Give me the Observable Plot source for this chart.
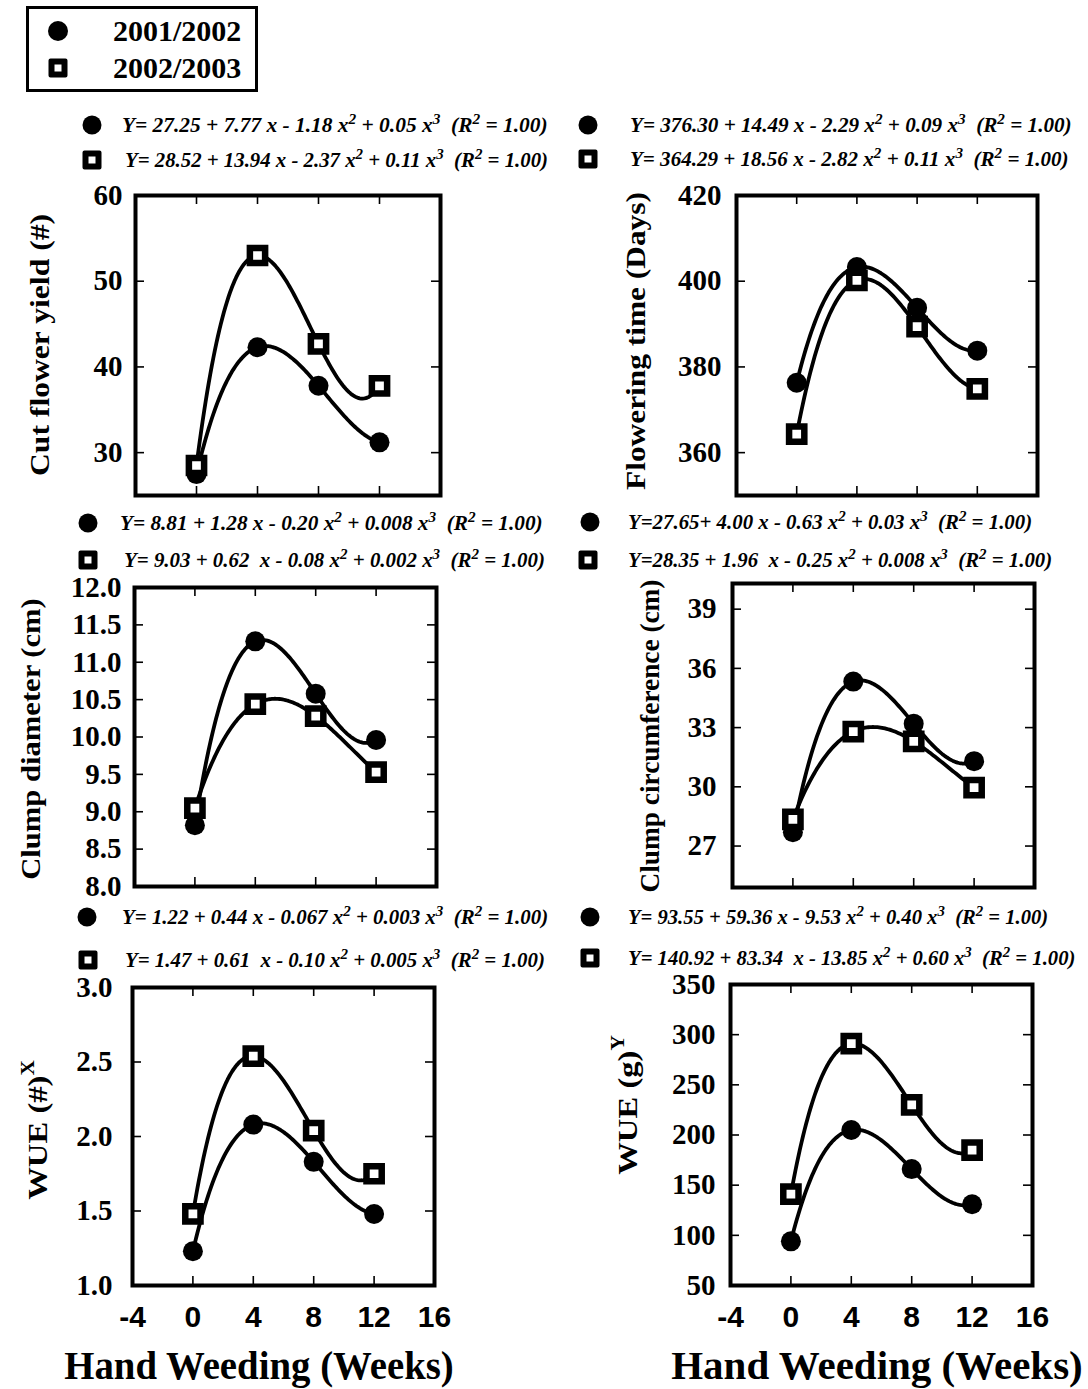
<!DOCTYPE html>
<html>
<head>
<meta charset="utf-8">
<script src="https://cdn.jsdelivr.net/npm/d3@7"></script>
<script src="https://cdn.jsdelivr.net/npm/@observablehq/plot@0.6"></script>
<style>
  body { margin: 0; background: #fff; }
  #page { position: relative; width: 1088px; height: 1389px; overflow: hidden; background: #fff;
          font-family: "Liberation Serif", "Times New Roman", serif; color: #000; }
  .plotbox { position: absolute; }
  .eq { position: absolute; font-style: italic; font-weight: bold; font-size: 21px; white-space: pre;
        line-height: 1; transform-origin: 0 50%; }
  .eq sup { font-size: 0.72em; vertical-align: 0.55em; line-height: 0; }
  .dotm { position: absolute; width: 19px; height: 19px; border-radius: 50%; background: #000;
          transform: translate(-50%, -50%); }
  .sqm { position: absolute; width: 7px; height: 7px; border: 6.5px solid #000; background: #fff;
         transform: translate(-50%, -50%); border-radius: 2px; }
  .ylab { position: absolute; font-weight: bold; font-size: 28px; white-space: nowrap; line-height: 1; }
  .ylab sup { font-size: 0.65em; vertical-align: 0.7em; line-height: 0; }
  .xlab { position: absolute; font-weight: bold; font-size: 40px; white-space: nowrap; line-height: 1; }
  #legend { position: absolute; left: 26px; top: 6px; width: 226px; height: 80px; border: 3px solid #000; }
  .legtxt { position: absolute; font-weight: bold; font-size: 30px; line-height: 1; white-space: nowrap;
            transform: translateY(-50%); }
</style>
</head>
<body>
<div id="page"></div>
<script>
// ---------------- data ----------------
const weeks = [0, 4, 8, 12];
const seasons = ["2001/2002", "2002/2003"];
const xTickLabels = [-4, 0, 4, 8, 12, 16];
const innerXTicks = [0, 4, 8, 12];

const yield2001 = [27.5, 42.3, 37.8, 31.2];
const yield2002 = [28.5, 53.0, 42.7, 37.8];
const yieldTicks = [30, 40, 50, 60];

const flowering2001 = [376.3, 403.3, 393.8, 383.8];
const flowering2002 = [364.3, 400.2, 389.4, 374.9];
const floweringTicks = [360, 380, 400, 420];

const diameter2001 = [8.82, 11.28, 10.58, 9.96];
const diameter2002 = [9.05, 10.44, 10.28, 9.53];
const diameterTicks = [8.0, 8.5, 9.0, 9.5, 10.0, 10.5, 11.0, 11.5, 12.0];

const circumference2001 = [27.7, 35.33, 33.2, 31.3];
const circumference2002 = [28.35, 32.8, 32.3, 29.96];
const circumferenceTicks = [27, 30, 33, 36, 39];

const wueNum2001 = [1.23, 2.08, 1.83, 1.48];
const wueNum2002 = [1.48, 2.54, 2.04, 1.75];
const wueNumTicks = [1.0, 1.5, 2.0, 2.5, 3.0];

const wueG2001 = [94, 205, 166, 131];
const wueG2002 = [141, 291, 230, 185];
const wueGTicks = [50, 100, 150, 200, 250, 300, 350];

const equations = {
  yield: ["Y= 27.25 + 7.77 x - 1.18 x^2 + 0.05 x^3  (R^2 = 1.00)",
          "Y= 28.52 + 13.94 x - 2.37 x^2 + 0.11 x^3  (R^2 = 1.00)"],
  flowering: ["Y= 376.30 + 14.49 x - 2.29 x^2 + 0.09 x^3  (R^2 = 1.00)",
              "Y= 364.29 + 18.56 x - 2.82 x^2 + 0.11 x^3  (R^2 = 1.00)"],
  diameter: ["Y= 8.81 + 1.28 x - 0.20 x^2 + 0.008 x^3  (R^2 = 1.00)",
             "Y= 9.03 + 0.62  x - 0.08 x^2 + 0.002 x^3  (R^2 = 1.00)"],
  circumference: ["Y=27.65+ 4.00 x - 0.63 x^2 + 0.03 x^3  (R^2 = 1.00)",
                  "Y=28.35 + 1.96  x - 0.25 x^2 + 0.008 x^3  (R^2 = 1.00)"],
  wueNum: ["Y= 1.22 + 0.44 x - 0.067 x^2 + 0.003 x^3  (R^2 = 1.00)",
           "Y= 1.47 + 0.61  x - 0.10 x^2 + 0.005 x^3  (R^2 = 1.00)"],
  wueG: ["Y= 93.55 + 59.36 x - 9.53 x^2 + 0.40 x^3  (R^2 = 1.00)",
         "Y= 140.92 + 83.34  x - 13.85 x^2 + 0.60 x^3  (R^2 = 1.00)"]
};

const yLabels = {
  yield: "Cut flower yield (#)",
  flowering: "Flowering time (Days)",
  diameter: "Clump diameter (cm)",
  circumference: "Clump circumference (cm)",
  wueNum: "WUE (#)<sup>X</sup>",
  wueG: "WUE (g)<sup>Y</sup>"
};
const xLabel = "Hand Weeding (Weeks)";

// ---------------- layout ----------------
const panels = [
  {key: "yield", s1: yield2001, s2: yield2002, ticks: yieldTicks, domain: [25, 60], fmt: d3.format("d"),
   col: 0, frame: {left: 135, top: 195, w: 305, h: 300}, bottom: false, pad: 13,
   ylab: {x: 40, y: 345, len: 262},
   eq: [{mx: 92, my: 125, tx: 122, tr: 548}, {mx: 92, my: 160, tx: 125, tr: 548}]},
  {key: "flowering", s1: flowering2001, s2: flowering2002, ticks: floweringTicks, domain: [350, 420], fmt: d3.format("d"),
   col: 1, frame: {left: 736, top: 195, w: 301, h: 300}, bottom: false, pad: 15,
   ylab: {x: 636, y: 341, len: 298},
   eq: [{mx: 588, my: 125, tx: 630, tr: 1072}, {mx: 588, my: 159, tx: 630, tr: 1068}]},
  {key: "diameter", s1: diameter2001, s2: diameter2002, ticks: diameterTicks, domain: [8, 12], fmt: d3.format(".1f"),
   col: 0, frame: {left: 134, top: 587, w: 302, h: 299}, bottom: false, pad: 13,
   ylab: {x: 31, y: 739, len: 282},
   eq: [{mx: 88, my: 523, tx: 120, tr: 543}, {mx: 88, my: 560, tx: 124, tr: 545}]},
  {key: "circumference", s1: circumference2001, s2: circumference2002, ticks: circumferenceTicks, domain: [24.9, 40.3], fmt: d3.format("d"),
   col: 1, frame: {left: 732, top: 583, w: 302, h: 304}, bottom: false, pad: 16,
   ylab: {x: 650, y: 736, len: 313},
   eq: [{mx: 590, my: 522, tx: 628, tr: 1032}, {mx: 588, my: 560, tx: 628, tr: 1052}]},
  {key: "wueNum", s1: wueNum2001, s2: wueNum2002, ticks: wueNumTicks, domain: [1, 3], fmt: d3.format(".1f"),
   col: 0, frame: {left: 132, top: 987, w: 302, h: 298}, bottom: true, pad: 20,
   ylab: {x: 38, y: 1130, len: 140},
   eq: [{mx: 87, my: 917, tx: 122, tr: 548}, {mx: 88, my: 960, tx: 125, tr: 545}],
   xlab: {x: 259, y: 1366, len: 390}},
  {key: "wueG", s1: wueG2001, s2: wueG2002, ticks: wueGTicks, domain: [50, 350], fmt: d3.format("d"),
   col: 1, frame: {left: 730, top: 984, w: 302, h: 301}, bottom: true, pad: 15,
   ylab: {x: 628, y: 1105, len: 140},
   eq: [{mx: 590, my: 917, tx: 628, tr: 1048}, {mx: 590, my: 958, tx: 628, tr: 1075}],
   xlab: {x: 877, y: 1366, len: 412}}
];

// Cubic (polynomial) fit curve through the series points, as a D3 curve factory
function cubicFitCurve(context) {
  let pts = [];
  return {
    areaStart() {}, areaEnd() {},
    lineStart() { pts = []; },
    point(x, y) { pts.push([+x, +y]); },
    lineEnd() {
      const n = pts.length;
      if (!n) return;
      const f = (x) => {
        let s = 0;
        for (let i = 0; i < n; i++) {
          let l = 1;
          for (let j = 0; j < n; j++) if (j !== i) l *= (x - pts[j][0]) / (pts[i][0] - pts[j][0]);
          s += l * pts[i][1];
        }
        return s;
      };
      const x0 = pts[0][0], x1 = pts[n - 1][0], steps = 120;
      for (let k = 0; k <= steps; k++) {
        const x = x0 + (x1 - x0) * k / steps;
        const y = f(x);
        if (k === 0) context.moveTo(x, y); else context.lineTo(x, y);
      }
    }
  };
}

const page = document.getElementById("page");

function addDiv(cls, html, style) {
  const d = document.createElement("div");
  d.className = cls;
  d.innerHTML = html;
  Object.assign(d.style, style);
  page.appendChild(d);
  return d;
}

function eqHtml(s) {
  return s.replace(/\^(\d)/g, "<sup>$1</sup>");
}

// legend
const legend = addDiv("", "", {});
legend.id = "legend";
addDiv("dotm", "", {left: "58px", top: "31px", width: "20px", height: "20px"});
addDiv("sqm", "", {left: "58px", top: "68px"});
addDiv("legtxt", seasons[0], {left: "113px", top: "31px"});
addDiv("legtxt", seasons[1], {left: "113px", top: "68px"});

const fitters = [];

for (const p of panels) {
  const rows = [];
  weeks.forEach((w, i) => rows.push({week: w, value: p.s1[i], season: seasons[0]}));
  weeks.forEach((w, i) => rows.push({week: w, value: p.s2[i], season: seasons[1]}));

  const svgLeft = p.col === 0 ? 0 : 544;
  const mTop = 20, mRight = 24, mBottom = p.bottom ? 70 : 20;
  const mLeft = p.frame.left - svgLeft;
  const W = p.frame.w, H = p.frame.h;

  const marks = [
    Plot.tickX(innerXTicks, {x: d => d, insetTop: H - 9, strokeWidth: 1.6}),
    Plot.tickX(innerXTicks, {x: d => d, insetBottom: H - 9, strokeWidth: 1.6}),
    Plot.tickY(p.ticks, {y: d => d, insetRight: W - 9, strokeWidth: 1.6}),
    Plot.tickY(p.ticks, {y: d => d, insetLeft: W - 9, strokeWidth: 1.6}),
    Plot.axisY(p.ticks, {anchor: "left", tickSize: 0, tickPadding: p.pad, tickFormat: p.fmt,
      fontSize: 29, fontWeight: "bold", fontFamily: "Liberation Serif", label: null}),
    Plot.line(rows, {x: "week", y: "value", z: "season", curve: cubicFitCurve, stroke: "black", strokeWidth: 3.8}),
    Plot.dot(rows.filter(d => d.season === seasons[0]), {x: "week", y: "value", r: 10, fill: "black", symbol: "circle"}),
    Plot.dot(rows.filter(d => d.season === seasons[1]), {x: "week", y: "value", r: 8.6, symbol: "square",
      fill: "white", stroke: "black", strokeWidth: 6.5}),
    Plot.frame({stroke: "black", strokeWidth: 4})
  ];
  if (p.bottom) {
    marks.push(Plot.axisX(xTickLabels, {anchor: "bottom", tickSize: 0, tickPadding: 20, tickFormat: d => String(d),
      fontSize: 30, fontWeight: "bold", fontFamily: "Liberation Sans", label: null}));
  }

  const chart = Plot.plot({
    width: mLeft + W + mRight,
    height: mTop + H + mBottom,
    marginLeft: mLeft, marginTop: mTop, marginRight: mRight, marginBottom: mBottom,
    x: {domain: [-4, 16], axis: null},
    y: {domain: p.domain, axis: null},
    style: {background: "transparent", overflow: "visible", color: "black"},
    marks
  });
  const box = document.createElement("div");
  box.className = "plotbox";
  box.style.left = svgLeft + "px";
  box.style.top = (p.frame.top - mTop) + "px";
  box.appendChild(chart);
  page.appendChild(box);

  // equations
  p.eq.forEach((e, i) => {
    if (i === 0) addDiv("dotm", "", {left: e.mx + "px", top: e.my + "px"});
    else addDiv("sqm", "", {left: e.mx + "px", top: e.my + "px"});
    const t = addDiv("eq", eqHtml(equations[p.key][i]), {left: e.tx + "px", top: e.my + "px"});
    fitters.push(() => {
      const nat = t.offsetWidth, hgt = t.offsetHeight;
      const k = (e.tr - e.tx) / nat;
      t.style.top = (e.my - hgt / 2) + "px";
      t.style.transform = `scaleX(${k})`;
    });
  });

  // y label
  const yl = addDiv("ylab", yLabels[p.key], {left: p.ylab.x + "px", top: p.ylab.y + "px"});
  fitters.push(() => {
    const k = p.ylab.len / yl.offsetWidth;
    yl.style.transform = `translate(-50%, -50%) rotate(-90deg) scaleX(${k})`;
  });

  if (p.xlab) {
    const xl = addDiv("xlab", xLabel, {left: p.xlab.x + "px", top: p.xlab.y + "px"});
    fitters.push(() => {
      const k = p.xlab.len / xl.offsetWidth;
      xl.style.transform = `translate(-50%, -50%) scaleX(${k})`;
    });
  }
}
fitters.forEach(f => f());
</script>
</body>
</html>
